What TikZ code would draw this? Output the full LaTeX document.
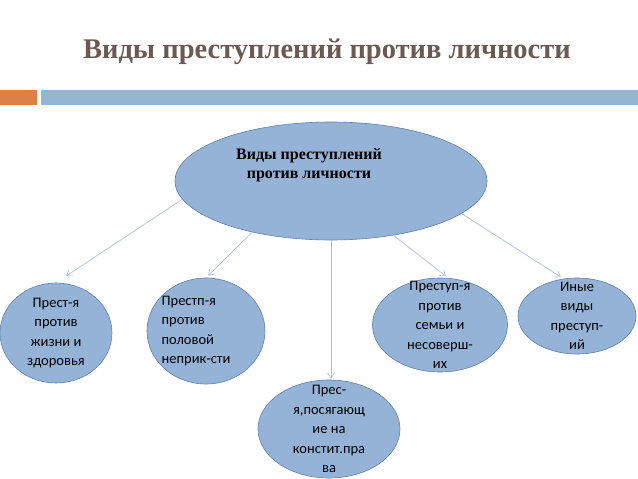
\documentclass[tikz,border=0pt]{standalone}
\usepackage{fontspec}
\setmainfont{Liberation Serif}
\newfontfamily\calfont{Carlito}
\usetikzlibrary{arrows.meta,positioning,shapes.geometric}
\definecolor{vidTitle}{HTML}{6B5A52}
\definecolor{vidOrange}{HTML}{DD8047}
\definecolor{vidBar}{HTML}{94B6D2}
\definecolor{vidFill}{HTML}{95B3D7}
\definecolor{vidEdge}{HTML}{5D80AA}
\definecolor{vidLine}{HTML}{A9C0DC}

\begin{document}
\begin{tikzpicture}[x=1pt,y=-1pt,
    oval/.style={ellipse,fill=vidFill,draw=vidEdge,line width=0.6pt,inner sep=0pt},
    txt/.style={align=center,inner sep=0pt,font=\calfont\fontsize{14.5}{19.5}\selectfont},
    link/.style={draw=vidLine,line width=0.7pt,
                 -{Straight Barb[length=5pt,width=7pt]},shorten >=3pt}]
  \useasboundingbox (0,0) rectangle (638,479);
  % title and bars
  \node[text=vidTitle,font=\bfseries\fontsize{28.5}{32}\selectfont] (title) at (327,52)
       {Виды преступлений против личности};
  \fill[vidOrange] (0,90) rectangle (37,105);
  \fill[vidBar] (41,90) rectangle (638,105);
  % root
  \node[oval,minimum width=312pt,minimum height=118pt,
        label={[align=center,xshift=-22pt,yshift=16pt,
                font=\bfseries\fontsize{16}{19}\selectfont]center:Виды преступлений\\против личности}]
       (root) at (331,181) {};
  % kinds
  \node[oval,minimum width=112pt,minimum height=100pt,
        label={[txt]center:Прест-я\\против\\жизни и\\здоровья}] (k1) at (56,333) {};
  \node[oval,minimum width=118pt,minimum height=106pt,
        label={[txt,align=left,xshift=-10pt]center:Престп-я\\против\\половой\\неприк-сти}]
       (k2) at (206,331) {};
  \node[oval,minimum width=142pt,minimum height=98pt,
        label={[txt]center:Прес-\\я,посягающ\\ие на\\констит.пра\\ва}] (k3) at (329,429) {};
  \node[oval,minimum width=135pt,minimum height=94pt,
        label={[txt]center:Преступ-я\\против\\семьи и\\несоверш-\\их}] (k4) at (440,325) {};
  \node[oval,minimum width=118pt,minimum height=76pt,
        label={[txt]center:Иные\\виды\\преступ-\\ий}] (k5) at (577,316) {};
  % links
  \draw[link,shorten >=12pt] (root.187) -- (k1.north);
  \draw[link] (root.213) -- (k2.north);
  \draw[link,shorten >=1pt] (root.south) -- (root.south |- k3.north);
  \draw[link] (root.319) -- (k4.80);
  \draw[link] (root.346) -- (k5.110);
\end{tikzpicture}
\end{document}
